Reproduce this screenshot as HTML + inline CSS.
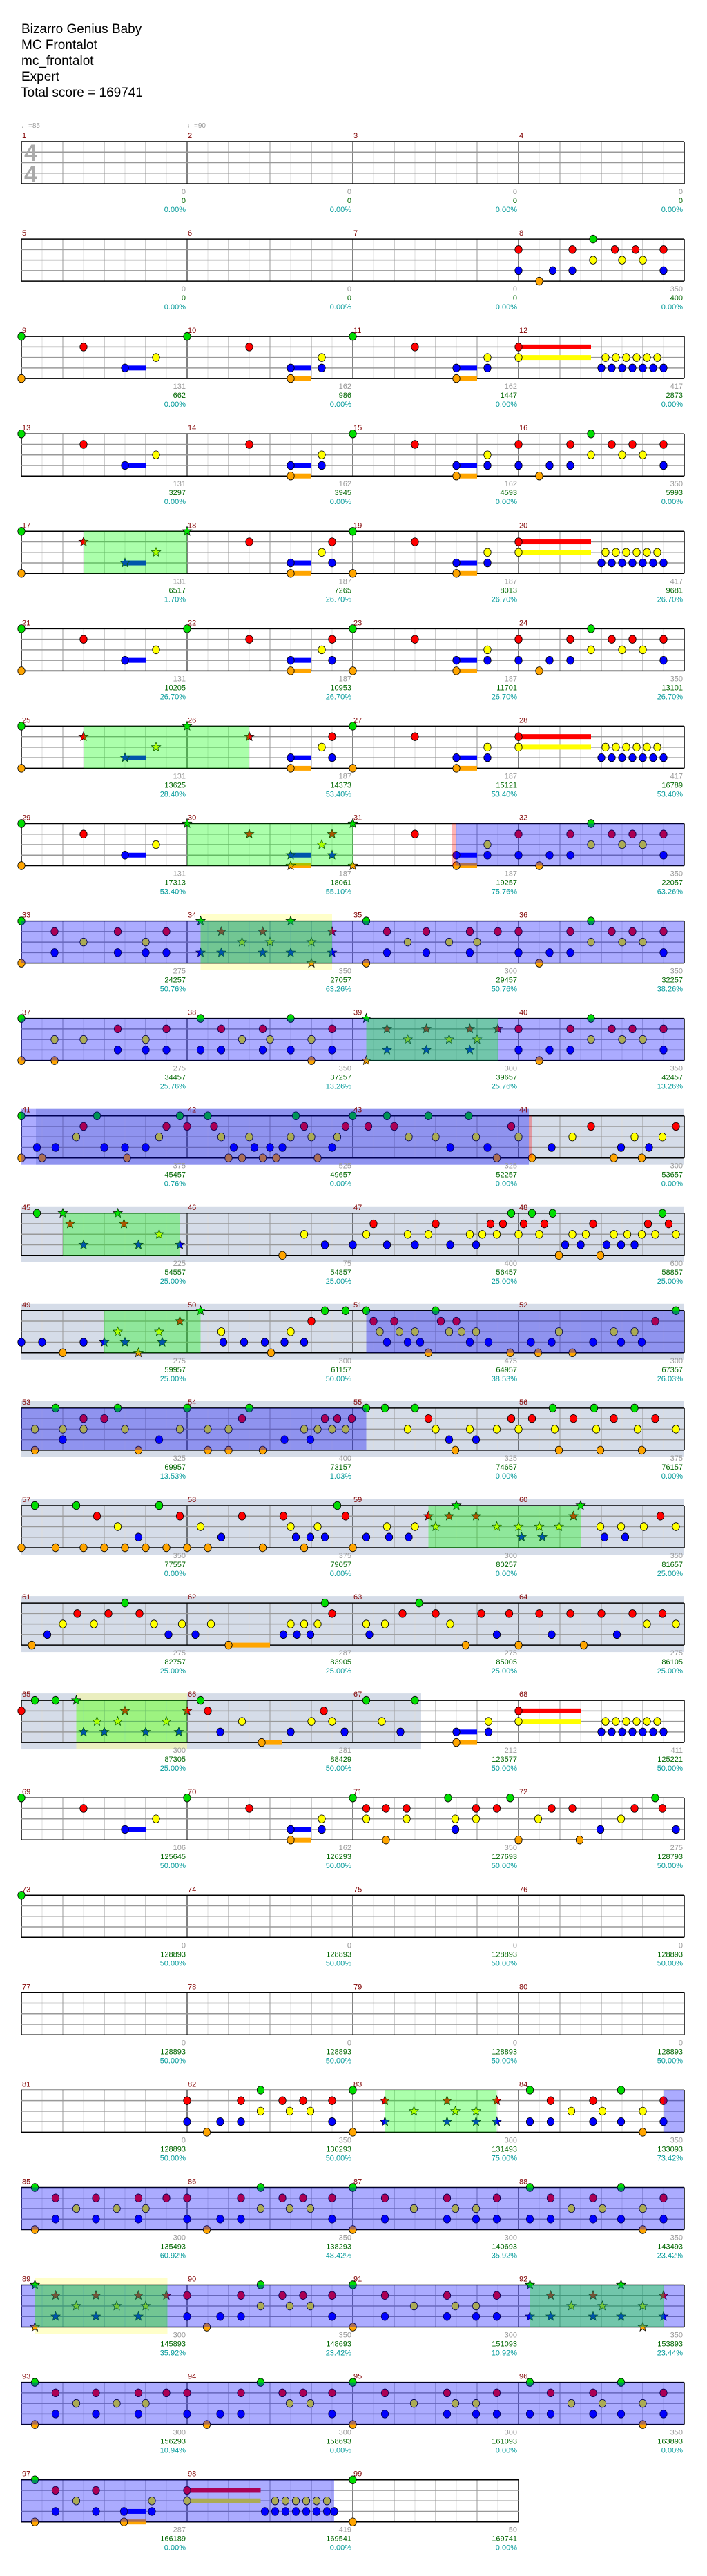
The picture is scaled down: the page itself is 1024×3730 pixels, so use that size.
<!DOCTYPE html>
<html><head><meta charset="utf-8">
<style>
body{margin:0;background:#fff}
svg{display:block}
text{font-family:"Liberation Sans",sans-serif}
.hd{font-size:19px;fill:#000}
.mn{font-size:11px;fill:#800000}
.st{font-size:11px;text-anchor:end}
.a{fill:#999}.b{fill:#006600}.c{fill:#009999}
.tp{font-size:10px;fill:#999}
</style></head><body>
<svg id="S" xmlns="http://www.w3.org/2000/svg" width="1024" height="3730" viewBox="0 0 1024 3730">
<text class="hd" x="31" y="48">Bizarro Genius Baby</text>
<text class="hd" x="31" y="71">MC Frontalot</text>
<text class="hd" x="31" y="94">mc_frontalot</text>
<text class="hd" x="31" y="117">Expert</text>
<text class="hd" x="30" y="140">Total score = 169741</text>

<g id="r0" transform="translate(0,205)">
<text class="tp" x="31" y="-20">♩=85</text><text class="tp" x="271" y="-20">♩=90</text>
<text x="35" y="28" style="font-size:34px;fill:#aaa;font-weight:bold">4</text>
<text x="35" y="59" style="font-size:34px;fill:#aaa;font-weight:bold">4</text>
<text class="mn" x="32" y="-5">1</text><text class="mn" x="272" y="-5">2</text><text class="mn" x="512" y="-5">3</text><text class="mn" x="752" y="-5">4</text>
<text class="st" x="269" y="76"><tspan class="a">0</tspan><tspan class="b" x="269" dy="13">0</tspan><tspan class="c" x="269" dy="13">0.00%</tspan></text>
<text class="st" x="509" y="76"><tspan class="a">0</tspan><tspan class="b" x="509" dy="13">0</tspan><tspan class="c" x="509" dy="13">0.00%</tspan></text>
<text class="st" x="749" y="76"><tspan class="a">0</tspan><tspan class="b" x="749" dy="13">0</tspan><tspan class="c" x="749" dy="13">0.00%</tspan></text>
<text class="st" x="989" y="76"><tspan class="a">0</tspan><tspan class="b" x="989" dy="13">0</tspan><tspan class="c" x="989" dy="13">0.00%</tspan></text>
</g>

<g id="r1" transform="translate(0,346.1)">
<text class="mn" x="32" y="-5">5</text><text class="mn" x="272" y="-5">6</text><text class="mn" x="512" y="-5">7</text><text class="mn" x="752" y="-5">8</text>
<text class="st" x="269" y="76"><tspan class="a">0</tspan><tspan class="b" x="269" dy="13">0</tspan><tspan class="c" x="269" dy="13">0.00%</tspan></text>
<text class="st" x="509" y="76"><tspan class="a">0</tspan><tspan class="b" x="509" dy="13">0</tspan><tspan class="c" x="509" dy="13">0.00%</tspan></text>
<text class="st" x="749" y="76"><tspan class="a">0</tspan><tspan class="b" x="749" dy="13">0</tspan><tspan class="c" x="749" dy="13">0.00%</tspan></text>
<text class="st" x="989" y="76"><tspan class="a">350</tspan><tspan class="b" x="989" dy="13">400</tspan><tspan class="c" x="989" dy="13">0.00%</tspan></text>
</g>

<g id="r2" transform="translate(0,487.1)">
<text class="mn" x="32" y="-5">9</text><text class="mn" x="272" y="-5">10</text><text class="mn" x="512" y="-5">11</text><text class="mn" x="752" y="-5">12</text>
<text class="st" x="269" y="76"><tspan class="a">131</tspan><tspan class="b" x="269" dy="13">662</tspan><tspan class="c" x="269" dy="13">0.00%</tspan></text>
<text class="st" x="509" y="76"><tspan class="a">162</tspan><tspan class="b" x="509" dy="13">986</tspan><tspan class="c" x="509" dy="13">0.00%</tspan></text>
<text class="st" x="749" y="76"><tspan class="a">162</tspan><tspan class="b" x="749" dy="13">1447</tspan><tspan class="c" x="749" dy="13">0.00%</tspan></text>
<text class="st" x="989" y="76"><tspan class="a">417</tspan><tspan class="b" x="989" dy="13">2873</tspan><tspan class="c" x="989" dy="13">0.00%</tspan></text>
</g>

<g id="r3" transform="translate(0,628.2)">
<text class="mn" x="32" y="-5">13</text><text class="mn" x="272" y="-5">14</text><text class="mn" x="512" y="-5">15</text><text class="mn" x="752" y="-5">16</text>
<text class="st" x="269" y="76"><tspan class="a">131</tspan><tspan class="b" x="269" dy="13">3297</tspan><tspan class="c" x="269" dy="13">0.00%</tspan></text>
<text class="st" x="509" y="76"><tspan class="a">162</tspan><tspan class="b" x="509" dy="13">3945</tspan><tspan class="c" x="509" dy="13">0.00%</tspan></text>
<text class="st" x="749" y="76"><tspan class="a">162</tspan><tspan class="b" x="749" dy="13">4593</tspan><tspan class="c" x="749" dy="13">0.00%</tspan></text>
<text class="st" x="989" y="76"><tspan class="a">350</tspan><tspan class="b" x="989" dy="13">5993</tspan><tspan class="c" x="989" dy="13">0.00%</tspan></text>
</g>

<g id="r4" transform="translate(0,769.3)">
<text class="mn" x="32" y="-5">17</text><text class="mn" x="272" y="-5">18</text><text class="mn" x="512" y="-5">19</text><text class="mn" x="752" y="-5">20</text>
<text class="st" x="269" y="76"><tspan class="a">131</tspan><tspan class="b" x="269" dy="13">6517</tspan><tspan class="c" x="269" dy="13">1.70%</tspan></text>
<text class="st" x="509" y="76"><tspan class="a">187</tspan><tspan class="b" x="509" dy="13">7265</tspan><tspan class="c" x="509" dy="13">26.70%</tspan></text>
<text class="st" x="749" y="76"><tspan class="a">187</tspan><tspan class="b" x="749" dy="13">8013</tspan><tspan class="c" x="749" dy="13">26.70%</tspan></text>
<text class="st" x="989" y="76"><tspan class="a">417</tspan><tspan class="b" x="989" dy="13">9681</tspan><tspan class="c" x="989" dy="13">26.70%</tspan></text>
</g>

<g id="r5" transform="translate(0,910.4)">
<text class="mn" x="32" y="-5">21</text><text class="mn" x="272" y="-5">22</text><text class="mn" x="512" y="-5">23</text><text class="mn" x="752" y="-5">24</text>
<text class="st" x="269" y="76"><tspan class="a">131</tspan><tspan class="b" x="269" dy="13">10205</tspan><tspan class="c" x="269" dy="13">26.70%</tspan></text>
<text class="st" x="509" y="76"><tspan class="a">187</tspan><tspan class="b" x="509" dy="13">10953</tspan><tspan class="c" x="509" dy="13">26.70%</tspan></text>
<text class="st" x="749" y="76"><tspan class="a">187</tspan><tspan class="b" x="749" dy="13">11701</tspan><tspan class="c" x="749" dy="13">26.70%</tspan></text>
<text class="st" x="989" y="76"><tspan class="a">350</tspan><tspan class="b" x="989" dy="13">13101</tspan><tspan class="c" x="989" dy="13">26.70%</tspan></text>
</g>

<g id="r6" transform="translate(0,1051.4)">
<text class="mn" x="32" y="-5">25</text><text class="mn" x="272" y="-5">26</text><text class="mn" x="512" y="-5">27</text><text class="mn" x="752" y="-5">28</text>
<text class="st" x="269" y="76"><tspan class="a">131</tspan><tspan class="b" x="269" dy="13">13625</tspan><tspan class="c" x="269" dy="13">28.40%</tspan></text>
<text class="st" x="509" y="76"><tspan class="a">187</tspan><tspan class="b" x="509" dy="13">14373</tspan><tspan class="c" x="509" dy="13">53.40%</tspan></text>
<text class="st" x="749" y="76"><tspan class="a">187</tspan><tspan class="b" x="749" dy="13">15121</tspan><tspan class="c" x="749" dy="13">53.40%</tspan></text>
<text class="st" x="989" y="76"><tspan class="a">417</tspan><tspan class="b" x="989" dy="13">16789</tspan><tspan class="c" x="989" dy="13">53.40%</tspan></text>
</g>

<g id="r7" transform="translate(0,1192.5)">
<text class="mn" x="32" y="-5">29</text><text class="mn" x="272" y="-5">30</text><text class="mn" x="512" y="-5">31</text><text class="mn" x="752" y="-5">32</text>
<text class="st" x="269" y="76"><tspan class="a">131</tspan><tspan class="b" x="269" dy="13">17313</tspan><tspan class="c" x="269" dy="13">53.40%</tspan></text>
<text class="st" x="509" y="76"><tspan class="a">187</tspan><tspan class="b" x="509" dy="13">18061</tspan><tspan class="c" x="509" dy="13">55.10%</tspan></text>
<text class="st" x="749" y="76"><tspan class="a">187</tspan><tspan class="b" x="749" dy="13">19257</tspan><tspan class="c" x="749" dy="13">75.76%</tspan></text>
<text class="st" x="989" y="76"><tspan class="a">350</tspan><tspan class="b" x="989" dy="13">22057</tspan><tspan class="c" x="989" dy="13">63.26%</tspan></text>
</g>

<g id="r8" transform="translate(0,1333.6)">
<text class="mn" x="32" y="-5">33</text><text class="mn" x="272" y="-5">34</text><text class="mn" x="512" y="-5">35</text><text class="mn" x="752" y="-5">36</text>
<text class="st" x="269" y="76"><tspan class="a">275</tspan><tspan class="b" x="269" dy="13">24257</tspan><tspan class="c" x="269" dy="13">50.76%</tspan></text>
<text class="st" x="509" y="76"><tspan class="a">350</tspan><tspan class="b" x="509" dy="13">27057</tspan><tspan class="c" x="509" dy="13">63.26%</tspan></text>
<text class="st" x="749" y="76"><tspan class="a">300</tspan><tspan class="b" x="749" dy="13">29457</tspan><tspan class="c" x="749" dy="13">50.76%</tspan></text>
<text class="st" x="989" y="76"><tspan class="a">350</tspan><tspan class="b" x="989" dy="13">32257</tspan><tspan class="c" x="989" dy="13">38.26%</tspan></text>
</g>

<g id="r9" transform="translate(0,1474.6)">
<text class="mn" x="32" y="-5">37</text><text class="mn" x="272" y="-5">38</text><text class="mn" x="512" y="-5">39</text><text class="mn" x="752" y="-5">40</text>
<text class="st" x="269" y="76"><tspan class="a">275</tspan><tspan class="b" x="269" dy="13">34457</tspan><tspan class="c" x="269" dy="13">25.76%</tspan></text>
<text class="st" x="509" y="76"><tspan class="a">350</tspan><tspan class="b" x="509" dy="13">37257</tspan><tspan class="c" x="509" dy="13">13.26%</tspan></text>
<text class="st" x="749" y="76"><tspan class="a">300</tspan><tspan class="b" x="749" dy="13">39657</tspan><tspan class="c" x="749" dy="13">25.76%</tspan></text>
<text class="st" x="989" y="76"><tspan class="a">350</tspan><tspan class="b" x="989" dy="13">42457</tspan><tspan class="c" x="989" dy="13">13.26%</tspan></text>
</g>

<g id="r10" transform="translate(0,1615.7)">
<text class="mn" x="32" y="-5">41</text><text class="mn" x="272" y="-5">42</text><text class="mn" x="512" y="-5">43</text><text class="mn" x="752" y="-5">44</text>
<text class="st" x="269" y="76"><tspan class="a">375</tspan><tspan class="b" x="269" dy="13">45457</tspan><tspan class="c" x="269" dy="13">0.76%</tspan></text>
<text class="st" x="509" y="76"><tspan class="a">525</tspan><tspan class="b" x="509" dy="13">49657</tspan><tspan class="c" x="509" dy="13">0.00%</tspan></text>
<text class="st" x="749" y="76"><tspan class="a">325</tspan><tspan class="b" x="749" dy="13">52257</tspan><tspan class="c" x="749" dy="13">0.00%</tspan></text>
<text class="st" x="989" y="76"><tspan class="a">300</tspan><tspan class="b" x="989" dy="13">53657</tspan><tspan class="c" x="989" dy="13">0.00%</tspan></text>
</g>

<g id="r11" transform="translate(0,1756.8)">
<text class="mn" x="32" y="-5">45</text><text class="mn" x="272" y="-5">46</text><text class="mn" x="512" y="-5">47</text><text class="mn" x="752" y="-5">48</text>
<text class="st" x="269" y="76"><tspan class="a">225</tspan><tspan class="b" x="269" dy="13">54557</tspan><tspan class="c" x="269" dy="13">25.00%</tspan></text>
<text class="st" x="509" y="76"><tspan class="a">75</tspan><tspan class="b" x="509" dy="13">54857</tspan><tspan class="c" x="509" dy="13">25.00%</tspan></text>
<text class="st" x="749" y="76"><tspan class="a">400</tspan><tspan class="b" x="749" dy="13">56457</tspan><tspan class="c" x="749" dy="13">25.00%</tspan></text>
<text class="st" x="989" y="76"><tspan class="a">600</tspan><tspan class="b" x="989" dy="13">58857</tspan><tspan class="c" x="989" dy="13">25.00%</tspan></text>
</g>

<g id="r12" transform="translate(0,1897.8)">
<text class="mn" x="32" y="-5">49</text><text class="mn" x="272" y="-5">50</text><text class="mn" x="512" y="-5">51</text><text class="mn" x="752" y="-5">52</text>
<text class="st" x="269" y="76"><tspan class="a">275</tspan><tspan class="b" x="269" dy="13">59957</tspan><tspan class="c" x="269" dy="13">25.00%</tspan></text>
<text class="st" x="509" y="76"><tspan class="a">300</tspan><tspan class="b" x="509" dy="13">61157</tspan><tspan class="c" x="509" dy="13">50.00%</tspan></text>
<text class="st" x="749" y="76"><tspan class="a">475</tspan><tspan class="b" x="749" dy="13">64957</tspan><tspan class="c" x="749" dy="13">38.53%</tspan></text>
<text class="st" x="989" y="76"><tspan class="a">300</tspan><tspan class="b" x="989" dy="13">67357</tspan><tspan class="c" x="989" dy="13">26.03%</tspan></text>
</g>

<g id="r13" transform="translate(0,2038.9)">
<text class="mn" x="32" y="-5">53</text><text class="mn" x="272" y="-5">54</text><text class="mn" x="512" y="-5">55</text><text class="mn" x="752" y="-5">56</text>
<text class="st" x="269" y="76"><tspan class="a">325</tspan><tspan class="b" x="269" dy="13">69957</tspan><tspan class="c" x="269" dy="13">13.53%</tspan></text>
<text class="st" x="509" y="76"><tspan class="a">400</tspan><tspan class="b" x="509" dy="13">73157</tspan><tspan class="c" x="509" dy="13">1.03%</tspan></text>
<text class="st" x="749" y="76"><tspan class="a">325</tspan><tspan class="b" x="749" dy="13">74657</tspan><tspan class="c" x="749" dy="13">0.00%</tspan></text>
<text class="st" x="989" y="76"><tspan class="a">375</tspan><tspan class="b" x="989" dy="13">76157</tspan><tspan class="c" x="989" dy="13">0.00%</tspan></text>
</g>

<g id="r14" transform="translate(0,2180)">
<text class="mn" x="32" y="-5">57</text><text class="mn" x="272" y="-5">58</text><text class="mn" x="512" y="-5">59</text><text class="mn" x="752" y="-5">60</text>
<text class="st" x="269" y="76"><tspan class="a">350</tspan><tspan class="b" x="269" dy="13">77557</tspan><tspan class="c" x="269" dy="13">0.00%</tspan></text>
<text class="st" x="509" y="76"><tspan class="a">375</tspan><tspan class="b" x="509" dy="13">79057</tspan><tspan class="c" x="509" dy="13">0.00%</tspan></text>
<text class="st" x="749" y="76"><tspan class="a">300</tspan><tspan class="b" x="749" dy="13">80257</tspan><tspan class="c" x="749" dy="13">0.00%</tspan></text>
<text class="st" x="989" y="76"><tspan class="a">350</tspan><tspan class="b" x="989" dy="13">81657</tspan><tspan class="c" x="989" dy="13">25.00%</tspan></text>
</g>

<g id="r15" transform="translate(0,2321.1)">
<text class="mn" x="32" y="-5">61</text><text class="mn" x="272" y="-5">62</text><text class="mn" x="512" y="-5">63</text><text class="mn" x="752" y="-5">64</text>
<text class="st" x="269" y="76"><tspan class="a">275</tspan><tspan class="b" x="269" dy="13">82757</tspan><tspan class="c" x="269" dy="13">25.00%</tspan></text>
<text class="st" x="509" y="76"><tspan class="a">287</tspan><tspan class="b" x="509" dy="13">83905</tspan><tspan class="c" x="509" dy="13">25.00%</tspan></text>
<text class="st" x="749" y="76"><tspan class="a">275</tspan><tspan class="b" x="749" dy="13">85005</tspan><tspan class="c" x="749" dy="13">25.00%</tspan></text>
<text class="st" x="989" y="76"><tspan class="a">275</tspan><tspan class="b" x="989" dy="13">86105</tspan><tspan class="c" x="989" dy="13">25.00%</tspan></text>
</g>

<g id="r16" transform="translate(0,2462.1)">
<text class="mn" x="32" y="-5">65</text><text class="mn" x="272" y="-5">66</text><text class="mn" x="512" y="-5">67</text><text class="mn" x="752" y="-5">68</text>
<text class="st" x="269" y="76"><tspan class="a">300</tspan><tspan class="b" x="269" dy="13">87305</tspan><tspan class="c" x="269" dy="13">25.00%</tspan></text>
<text class="st" x="509" y="76"><tspan class="a">281</tspan><tspan class="b" x="509" dy="13">88429</tspan><tspan class="c" x="509" dy="13">50.00%</tspan></text>
<text class="st" x="749" y="76"><tspan class="a">212</tspan><tspan class="b" x="749" dy="13">123577</tspan><tspan class="c" x="749" dy="13">50.00%</tspan></text>
<text class="st" x="989" y="76"><tspan class="a">411</tspan><tspan class="b" x="989" dy="13">125221</tspan><tspan class="c" x="989" dy="13">50.00%</tspan></text>
</g>

<g id="r17" transform="translate(0,2603.2)">
<text class="mn" x="32" y="-5">69</text><text class="mn" x="272" y="-5">70</text><text class="mn" x="512" y="-5">71</text><text class="mn" x="752" y="-5">72</text>
<text class="st" x="269" y="76"><tspan class="a">106</tspan><tspan class="b" x="269" dy="13">125645</tspan><tspan class="c" x="269" dy="13">50.00%</tspan></text>
<text class="st" x="509" y="76"><tspan class="a">162</tspan><tspan class="b" x="509" dy="13">126293</tspan><tspan class="c" x="509" dy="13">50.00%</tspan></text>
<text class="st" x="749" y="76"><tspan class="a">350</tspan><tspan class="b" x="749" dy="13">127693</tspan><tspan class="c" x="749" dy="13">50.00%</tspan></text>
<text class="st" x="989" y="76"><tspan class="a">275</tspan><tspan class="b" x="989" dy="13">128793</tspan><tspan class="c" x="989" dy="13">50.00%</tspan></text>
</g>

<g id="r18" transform="translate(0,2744.3)">
<text class="mn" x="32" y="-5">73</text><text class="mn" x="272" y="-5">74</text><text class="mn" x="512" y="-5">75</text><text class="mn" x="752" y="-5">76</text>
<text class="st" x="269" y="76"><tspan class="a">0</tspan><tspan class="b" x="269" dy="13">128893</tspan><tspan class="c" x="269" dy="13">50.00%</tspan></text>
<text class="st" x="509" y="76"><tspan class="a">0</tspan><tspan class="b" x="509" dy="13">128893</tspan><tspan class="c" x="509" dy="13">50.00%</tspan></text>
<text class="st" x="749" y="76"><tspan class="a">0</tspan><tspan class="b" x="749" dy="13">128893</tspan><tspan class="c" x="749" dy="13">50.00%</tspan></text>
<text class="st" x="989" y="76"><tspan class="a">0</tspan><tspan class="b" x="989" dy="13">128893</tspan><tspan class="c" x="989" dy="13">50.00%</tspan></text>
</g>

<g id="r19" transform="translate(0,2885.3)">
<text class="mn" x="32" y="-5">77</text><text class="mn" x="272" y="-5">78</text><text class="mn" x="512" y="-5">79</text><text class="mn" x="752" y="-5">80</text>
<text class="st" x="269" y="76"><tspan class="a">0</tspan><tspan class="b" x="269" dy="13">128893</tspan><tspan class="c" x="269" dy="13">50.00%</tspan></text>
<text class="st" x="509" y="76"><tspan class="a">0</tspan><tspan class="b" x="509" dy="13">128893</tspan><tspan class="c" x="509" dy="13">50.00%</tspan></text>
<text class="st" x="749" y="76"><tspan class="a">0</tspan><tspan class="b" x="749" dy="13">128893</tspan><tspan class="c" x="749" dy="13">50.00%</tspan></text>
<text class="st" x="989" y="76"><tspan class="a">0</tspan><tspan class="b" x="989" dy="13">128893</tspan><tspan class="c" x="989" dy="13">50.00%</tspan></text>
</g>

<g id="r20" transform="translate(0,3026.4)">
<text class="mn" x="32" y="-5">81</text><text class="mn" x="272" y="-5">82</text><text class="mn" x="512" y="-5">83</text><text class="mn" x="752" y="-5">84</text>
<text class="st" x="269" y="76"><tspan class="a">0</tspan><tspan class="b" x="269" dy="13">128893</tspan><tspan class="c" x="269" dy="13">50.00%</tspan></text>
<text class="st" x="509" y="76"><tspan class="a">350</tspan><tspan class="b" x="509" dy="13">130293</tspan><tspan class="c" x="509" dy="13">50.00%</tspan></text>
<text class="st" x="749" y="76"><tspan class="a">300</tspan><tspan class="b" x="749" dy="13">131493</tspan><tspan class="c" x="749" dy="13">75.00%</tspan></text>
<text class="st" x="989" y="76"><tspan class="a">350</tspan><tspan class="b" x="989" dy="13">133093</tspan><tspan class="c" x="989" dy="13">73.42%</tspan></text>
</g>

<g id="r21" transform="translate(0,3167.5)">
<text class="mn" x="32" y="-5">85</text><text class="mn" x="272" y="-5">86</text><text class="mn" x="512" y="-5">87</text><text class="mn" x="752" y="-5">88</text>
<text class="st" x="269" y="76"><tspan class="a">300</tspan><tspan class="b" x="269" dy="13">135493</tspan><tspan class="c" x="269" dy="13">60.92%</tspan></text>
<text class="st" x="509" y="76"><tspan class="a">350</tspan><tspan class="b" x="509" dy="13">138293</tspan><tspan class="c" x="509" dy="13">48.42%</tspan></text>
<text class="st" x="749" y="76"><tspan class="a">300</tspan><tspan class="b" x="749" dy="13">140693</tspan><tspan class="c" x="749" dy="13">35.92%</tspan></text>
<text class="st" x="989" y="76"><tspan class="a">350</tspan><tspan class="b" x="989" dy="13">143493</tspan><tspan class="c" x="989" dy="13">23.42%</tspan></text>
</g>

<g id="r22" transform="translate(0,3308.5)">
<text class="mn" x="32" y="-5">89</text><text class="mn" x="272" y="-5">90</text><text class="mn" x="512" y="-5">91</text><text class="mn" x="752" y="-5">92</text>
<text class="st" x="269" y="76"><tspan class="a">300</tspan><tspan class="b" x="269" dy="13">145893</tspan><tspan class="c" x="269" dy="13">35.92%</tspan></text>
<text class="st" x="509" y="76"><tspan class="a">350</tspan><tspan class="b" x="509" dy="13">148693</tspan><tspan class="c" x="509" dy="13">23.42%</tspan></text>
<text class="st" x="749" y="76"><tspan class="a">300</tspan><tspan class="b" x="749" dy="13">151093</tspan><tspan class="c" x="749" dy="13">10.92%</tspan></text>
<text class="st" x="989" y="76"><tspan class="a">350</tspan><tspan class="b" x="989" dy="13">153893</tspan><tspan class="c" x="989" dy="13">23.44%</tspan></text>
</g>

<g id="r23" transform="translate(0,3449.6)">
<text class="mn" x="32" y="-5">93</text><text class="mn" x="272" y="-5">94</text><text class="mn" x="512" y="-5">95</text><text class="mn" x="752" y="-5">96</text>
<text class="st" x="269" y="76"><tspan class="a">300</tspan><tspan class="b" x="269" dy="13">156293</tspan><tspan class="c" x="269" dy="13">10.94%</tspan></text>
<text class="st" x="509" y="76"><tspan class="a">300</tspan><tspan class="b" x="509" dy="13">158693</tspan><tspan class="c" x="509" dy="13">0.00%</tspan></text>
<text class="st" x="749" y="76"><tspan class="a">300</tspan><tspan class="b" x="749" dy="13">161093</tspan><tspan class="c" x="749" dy="13">0.00%</tspan></text>
<text class="st" x="989" y="76"><tspan class="a">350</tspan><tspan class="b" x="989" dy="13">163893</tspan><tspan class="c" x="989" dy="13">0.00%</tspan></text>
</g>

<g id="r24" transform="translate(0,3590.7)">
<text class="mn" x="32" y="-5">97</text><text class="mn" x="272" y="-5">98</text><text class="mn" x="512" y="-5">99</text>
<text class="st" x="269" y="76"><tspan class="a">287</tspan><tspan class="b" x="269" dy="13">166189</tspan><tspan class="c" x="269" dy="13">0.00%</tspan></text>
<text class="st" x="509" y="76"><tspan class="a">419</tspan><tspan class="b" x="509" dy="13">169541</tspan><tspan class="c" x="509" dy="13">0.00%</tspan></text>
<text class="st" x="749" y="76"><tspan class="a">50</tspan><tspan class="b" x="749" dy="13">169741</tspan><tspan class="c" x="749" dy="13">0.00%</tspan></text>
</g>
</svg>
<script>
(function(){
var NS="http://www.w3.org/2000/svg";
function el(p,t,a){var e=document.createElementNS(NS,t);for(var k in a)e.setAttribute(k,a[k]);p.appendChild(e);return e;}
function X(p){return 31+p*15;}
var tri="56.4 57.4 58.4 59.4 60.4 61.4", btri="56 57 58 59 60 61 62";
var R=[
{},
{g:"55.2",r:"48 53.2 57.3 59.3 62",y:"55.2 58 60",b:"48 51.3 53.2 62",o:"50"},
{g:"0 16 32",r:"6 22 38 48-55",y:"13 29 45 48-55 "+tri,b:"10-12 26-28 29 42-44 45 "+btri,o:"0 26-28 42-44"},
{g:"0 32 55",r:"6 22 38 48 53 57 59 62",y:"13 29 45 55 58 60",b:"10-12 26-28 29 42-44 45 48 51 53 62",o:"26-28 42-44 50"},
{gr:[[6,16]],g:"0 16* 32",r:"6* 22 30 38 48-55",y:"13* 29 45 48-55 "+tri,b:"10-12* 26-28 30 42-44 45 "+btri,o:"0 26-28 32 42-44"},
{g:"0 16 32 55",r:"6 22 30 38 48 53 57 59 62",y:"13 29 45 55 58 60",b:"10-12 26-28 30 42-44 45 48 51 53 62",o:"0 26-28 32 42-44 50"},
{gr:[[6,22]],g:"0 16* 32",r:"6* 22* 30 38 48-55",y:"13* 29 45 48-55 "+tri,b:"10-12* 26-28 30 42-44 45 "+btri,o:"0 26-28 32 42-44"},
{gr:[[16,32]],bl:[[42,64]],pk:41.6,g:"0 16* 32* 55",r:"6 22* 30* 38 48 53 57 59 62",y:"13 29* 45 55 58 60",b:"10-12 26-28* 30* 42-44 45 48 51 53 62",o:"0 26-28* 32* 42-44 50"},
{bl:[[0,64]],yb:[[17.3,30]],gr:[[17.3,30]],g:"0 17.3* 26* 33.3 55",r:"3.2 9.3 14 19.3* 23.3* 30* 35.3 39.1 43.3 46 48 53 57 59 62",y:"6 12 21.3* 24* 28* 37.3 41.3 44 55 58 60",b:"3.2 9.3 12 14 17.3* 19.3* 23.3* 26* 30* 35.3 39.1 43.3 48 51 53 62",o:"0 28* 33.3 50"},
{bl:[[0,64]],gr:[[33.3,46]],g:"0 17.3 26 33.3* 55",r:"9.3 14 19.3 23.3 30 35.3* 39.1* 43.3* 46* 48 53 57 59 62",y:"3.2 6 12 21.3 24 28 37.3* 41.3* 44* 55 58 60",b:"9.3 12 14 17.3 19.3 23.3 26 30 35.3* 39.1* 43.3* 48 51 53 62",o:"0 3.2 28 33.3* 50"},
{band:[[1.4,64]],bl:[[0,49]],blx:1,pk:49,g:"0 7.3 15.3 18 26.5 32 35.3 39.3 43.2",r:"6 14 16 18.6 27.3 31.3 33.5 36 47.3 55 63.2",y:"5.3 13.3 19.3 22 26 28 30.5 37.4 40 43.9 48 53.2 59.2 61.9",b:"1.5 3.3 8 10 12 20.5 22.5 24 25.2 30 41.4 45 51.2 57.9 60.6",o:"0 2 10.2 20 21.3 23.3 24.6 28.6 45.9 49.3 57.2 59.9"},
{band:[[0,64]],gr:[[4,15.3]],g:"1.5 4* 9.3* 47.3 49.3 51.3 61.9",r:"4.7* 9.9* 34 40 45.3 46.5 48.5 50.5 55.2 60.5 62.5",y:"13.3* 27.3 33.3 37.3 39.3 43.3 44.5 45.9 48 50 53.2 54.5 57.2 58.5 59.9 61.2 63.2",b:"6* 11.3* 15.3* 29.3 32 35.3 38 41.4 43.9 52.5 54 56.5 57.9 59.2",o:"25.2 51.9 55.9"},
{band:[[0,64]],gr:[[8,17.3]],bl:[[33.3,64]],g:"17.3* 29.3 31.3 33.3 40 63.2",r:"15.3* 28 34 36 40.5 42 61.2",y:"9.3* 13.3* 19.3 26 34.6 36.5 38 41.3 42.5 43.9 51.9 57.2 59.2",b:"0 2 6 8* 10* 13.6* 19.5 21.5 23.5 25.4 27.3 35.3 37.3 38.5 43.3 45.1 49.2 51.2 55.2 57.9 59.9",o:"4 11.3* 24.1 39.3 47.2 49.9 53.2"},
{band:[[0,64]],bl:[[0,33.3]],g:"3.3 9.3 16 22 33.3 35.1 38 51.3 55.3 59.2",r:"6 8 21.3 29.3 30.5 31.9 39.3 47.3 49.3 53.3 57.2 61.2",y:"1.3 4 6 10 15.3 18 20 27.3 28.6 30 31.3 37.3 40 43.3 45.9 48 51.5 55.5 59.5 63.2",b:"4 13.3 25.4 27.9 41.3 43.9",o:"1.3 11.3 18 20 23.3 41.9 51.9 55.9 59.9"},
{band:[[0,64]],gr:[[39.3,54]],g:"1.3 5.3 13.3 30.5 42* 54*",r:"7.3 15.3 21.3 25.3 31.3 39.3* 41.3* 43.9* 53.3* 61.7",y:"9.3 17.3 26 28.6 35.3 38 40* 45.9* 48* 50* 51.9* 55.9 57.9 60.1 63.2",b:"11.3 19.3 26.5 27.9 29.3 33.3 35.5 37.4 48.3* 50.3* 56.3 58.3",o:"0 3.3 6 8 10 12 14 16 18 23.3 27.3 32"},
{band:[[0,64]],g:"10 29.3 38.4",r:"5.4 8.4 11.4 30 36.8 40 44.4 47.1 50 53 56 59 61.9",y:"4 7 12.8 15.5 18.3 26 27.3 28.6 33.3 35.1 41.4 60.4 63.2",b:"2.5 14.2 16.8 25.3 26.6 27.9 33.6 45.9 51.2 57.5",o:"1 20-24 42.9 48 54.3"},
{band:[[0,38.6]],yb:[[5.3,16]],gr:[[5.3,16]],g:"1.3 3.3 5.3* 17.3 33.3 38",r:"0 10* 16* 18 29.2 48-54",y:"7.3* 9.3* 14* 21.3 28 30 34.8 45.1 48-54 "+tri,b:"6* 8* 12* 15.2* 19.2 26 31.2 36.6 42-44 45.1 "+btri,o:"23.2-25.2 42-44"},
{g:"0 16 32 41.2 47.2 61.2",r:"6 22 33.3 35.2 37.2 43.9 45.9 51.2 53.2 59.2 61.9",y:"13 29 33.3 37.2 41.9 43.9 49.9 57.9",b:"10-12 26-28 29 41.9 55.9 63.2",o:"26-28 35.2 48 53.9"},
{g:"0"},
{},
{gr:[[35.1,45.9]],bl:[[62,64]],g:"23.1 32 49.1 57.9",r:"16 21.2 25.2 27.2 30 35.1* 41.1* 45.9* 51.1 55.2 62",y:"23.1 25.9 27.9 37.9* 41.9* 43.9* 53.1 56.1 60",b:"16 19.2 21.2 30 35.1* 41.1* 43.9* 45.9* 49.1 51.1 55.2 57.9 62",o:"17.9 32 60"},
{bl:[[0,64]],g:"1.3 23.1 32 49.1 57.9",r:"3.3 7.2 11.3 14 16 21.2 25.2 27.2 30 35.1 41.1 45.9 51.1 55.2 62",y:"5.3 9.2 12 23.1 25.9 27.9 37.9 41.9 43.9 53.1 56.1 60",b:"3.3 7.2 11.3 16 19.2 21.2 30 35.1 41.1 43.9 45.9 49.1 51.1 55.2 57.9 62",o:"1.3 17.9 32 60"},
{bl:[[0,64]],yb:[[1.3,14.1]],gr:[[1.3,14.1],[49.1,62]],g:"1.3* 23.1 32 49.1* 57.9*",r:"3.3* 7.2* 11.3* 14* 16 21.2 25.2 27.2 30 35.1 41.1 45.9 51.1* 55.2* 62*",y:"5.3* 9.2* 12* 23.1 25.9 27.9 37.9 41.9 43.9 53.1* 56.1* 60*",b:"3.3* 7.2* 11.3* 16 19.2 21.2 30 35.1 41.1 43.9 45.9 49.1* 51.1* 55.2* 57.9* 62*",o:"1.3* 17.9 32 60*"},
{bl:[[0,64]],g:"1.3 23.1 32 49.1 57.9",r:"3.3 7.2 11.3 14 16 21.2 25.2 27.2 30 35.1 41.1 45.9 51.1 55.2 62",y:"5.3 9.2 12 25.9 27.9 37.9 41.9 43.9 53.1 56.1 60",b:"3.3 7.2 11.3 16 19.2 21.2 30 35.1 41.1 43.9 45.9 49.1 51.1 55.2 57.9 62",o:"1.3 17.9 32 60"},
{m:3,bl:[[0,30.2]],g:"1.3 32",r:"3.3 7.2 16-23.1",y:"5.3 12.6 16-23.1 24.5 25.5 26.5 27.5 28.5 29.5",b:"3.3 7.2 9.9-12 12.6 23.5 24.5 25.5 26.5 27.5 28.5 29.5 30.2",o:"1.3 9.9-12 32"}
];
var COL=["#00dd00","#ff0000","#ffff00","#0000ff","#ffa500"];
var KEYS=["g","r","y","b","o"];
function P(s){if(!s)return[];return s.trim().split(/\s+/).map(function(t){var st=t.charAt(t.length-1)=="*";if(st)t=t.slice(0,-1);var a=t.split("-");return{p:+a[0],e:a.length>1?+a[1]:null,st:st};});}
function star(cx,cy,ro,ri){var pts=[];for(var i=0;i<10;i++){var r=i%2?ri:ro;var an=-Math.PI/2+i*Math.PI/5;pts.push((cx+r*Math.cos(an)).toFixed(1)+","+(cy+r*Math.sin(an)).toFixed(1));}return pts.join(" ");}
R.forEach(function(r,k){
 var g=document.getElementById("r"+k);
 var sh=document.createElementNS(NS,"g");g.insertBefore(sh,g.firstChild);
 var m=r.m||4,W=m*240;
 (r.band||[]).forEach(function(b){el(sh,"rect",{x:X(b[0]),y:-10,width:(b[1]-b[0])*15,height:81,fill:"#d5dce8"});});
 (r.yb||[]).forEach(function(b){el(sh,"rect",{x:X(b[0]),y:-10,width:(b[1]-b[0])*15,height:81,fill:"rgba(255,255,150,0.5)"});});
 for(var x=0;x<=W;x+=30){var c=(x%240==0)?"#000":(x%60==0?"#999":"#ddd");el(sh,"line",{x1:31+x,x2:31+x,y1:0,y2:61,stroke:c,"stroke-width":(x==0||x==W)?1.5:1});}
 for(var i=1;i<4;i++)el(sh,"line",{x1:31,x2:31+W,y1:i*15.25,y2:i*15.25,stroke:"#999","stroke-width":1.5});
 el(sh,"line",{x1:31,x2:31+W,y1:0,y2:0,stroke:"#000","stroke-width":1.5});
 el(sh,"line",{x1:31,x2:31+W,y1:61,y2:61,stroke:"#000","stroke-width":1.5});
 KEYS.forEach(function(key,lane){var ns=P(r[key]);var cy=lane*15.25;
  ns.forEach(function(n){if(n.e!=null)el(sh,"rect",{x:X(n.p),y:cy-3.5,width:(n.e-n.p)*15,height:7,fill:COL[lane]});});
  ns.forEach(function(n){if(n.st)el(sh,"polygon",{points:star(X(n.p),cy,7,3),fill:COL[lane],stroke:"#000","stroke-width":0.7});else el(sh,"ellipse",{cx:X(n.p),cy:cy,rx:5.2,ry:5.8,fill:COL[lane],stroke:"#000","stroke-width":0.8});});
 });
 (r.bl||[]).forEach(function(b){var ex=r.blx;el(sh,"rect",{x:X(b[0]),y:ex?-10:0,width:(b[1]-b[0])*15,height:ex?81:61,fill:"rgba(0,0,255,0.33)"});});
 (r.gr||[]).forEach(function(b){el(sh,"rect",{x:X(b[0]),y:0,width:(b[1]-b[0])*15,height:61,fill:"rgba(0,255,0,0.33)"});});
 if(r.pk!=null)el(sh,"rect",{x:X(r.pk),y:0,width:5,height:61,fill:"rgba(255,0,0,0.3)"});
});
})();
</script>
</body></html>
